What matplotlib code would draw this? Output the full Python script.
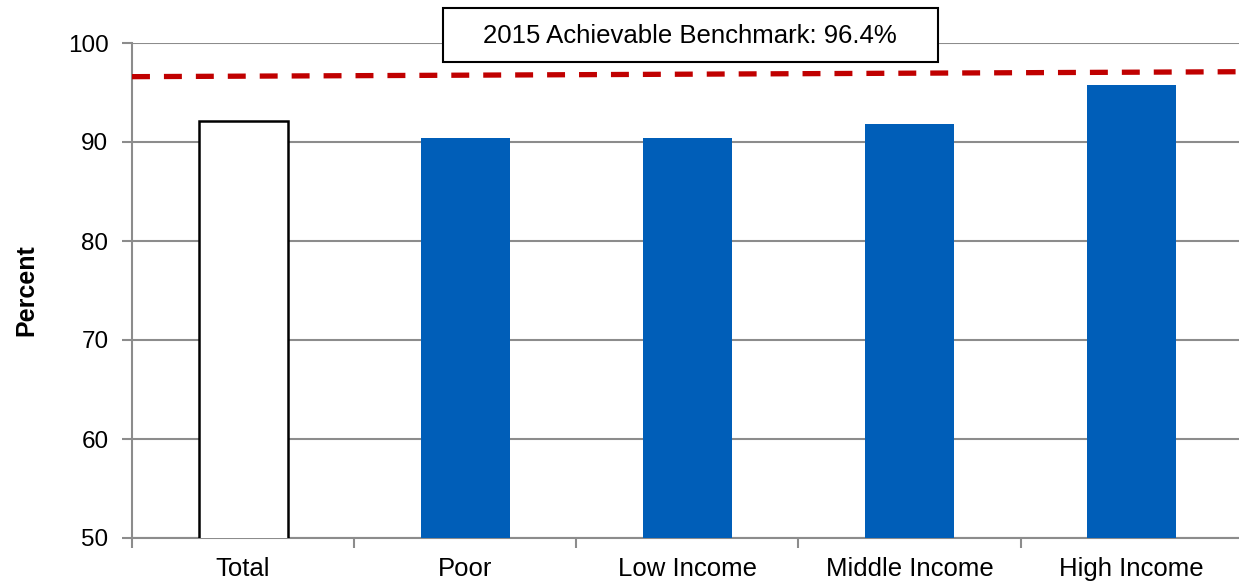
import matplotlib
matplotlib.use("Agg")
import matplotlib.pyplot as plt
from matplotlib.patches import Rectangle
import numpy as np

categories = ["Total", "Poor", "Low Income", "Middle Income", "High Income"]
values = [92.1, 90.4, 90.4, 91.8, 95.8]
benchmark_ends = [96.6, 97.1]
benchmark_label = "2015 Achievable Benchmark: 96.4%"
yticks = [50, 60, 70, 80, 90, 100]

plt.rcParams['font.family'] = ['Liberation Sans', 'DejaVu Sans']

fig = plt.figure(figsize=(12.39, 5.84), dpi=100)
ax = fig.add_axes([132/1239, 1-538/584, 1 - 132/1239 + 0.003, (538-43)/584])

x = np.arange(len(categories))
face = ['white'] + ['#005EB8'] * (len(categories) - 1)
edge = ['black'] + ['#005EB8'] * (len(categories) - 1)
lw = [1.8] + [0] * (len(categories) - 1)
ax.bar(x, values, width=0.4, color=face, edgecolor=edge, linewidth=lw, zorder=3)

ax.plot([-0.5, len(categories) - 0.5], benchmark_ends, color='#C00000', lw=3.8,
        dashes=(3.4, 2.65), zorder=4, solid_capstyle='butt', dash_capstyle='butt')

ax.set_xlim(-0.5, len(categories) - 0.5)
ax.set_ylim(50, 100)
ax.set_yticks(yticks)
ax.yaxis.grid(True, color='#8c8c8c', lw=1.5, zorder=0)
ax.set_axisbelow(True)

ax.set_xticks(np.arange(len(categories) + 1) - 0.5)
ax.set_xticklabels([])
ax.set_xticks(x, minor=True)
ax.set_xticklabels(categories, minor=True, fontsize=18.5)
ax.tick_params(axis='x', which='major', length=7, color='#8c8c8c', width=1.5)
ax.tick_params(axis='x', which='minor', length=0, pad=14)
ax.tick_params(axis='y', length=7, color='#8c8c8c', width=1.5, labelsize=17.5, pad=10)

for s in ['top', 'right']:
    ax.spines[s].set_visible(False)
for s in ['left', 'bottom']:
    ax.spines[s].set_color('#8c8c8c')
    ax.spines[s].set_linewidth(1.5)

fig.text(26/1239, 1-290/584, "Percent", rotation=90, ha='center', va='center',
         fontsize=18, fontweight='bold')

fig.patches.append(Rectangle((443/1239, 1-62/584), 495/1239, 54/584,
                             transform=fig.transFigure, facecolor='white',
                             edgecolor='black', lw=1.5, zorder=10))
fig.text(690/1239, 1-36/584, benchmark_label, ha='center', va='center',
         fontsize=18.5, zorder=11)

fig.savefig("out.png", dpi=100)
